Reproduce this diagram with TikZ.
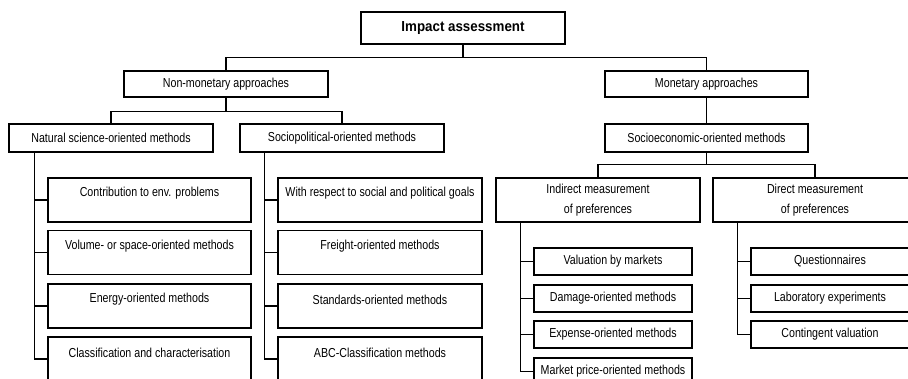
\documentclass[tikz,border=0pt]{standalone}
\usepackage{fontspec}
\setmainfont{Liberation Sans}[FakeStretch=0.82]
\newfontfamily\titlefont{Liberation Sans}[FakeStretch=0.92]
\begin{document}
\begin{tikzpicture}[x=1pt,y=-1pt,
  box/.style={draw, line width=1.1pt, inner sep=0pt, font=\fontsize{13}{19.5}\selectfont, align=center},
  conn/.style={line width=1.1pt},
  lbl/.style={anchor=center, yshift=-16pt, font=\fontsize{13}{14}\selectfont},
  tallbox/.style={box, minimum width=203, minimum height=44},
  smallbox/.style={box, minimum width=158, minimum height=27}]
\useasboundingbox (0,0) rectangle (908,378);
\clip (0,0) rectangle (908,378);

\node[box, minimum width=204, minimum height=32, font=\titlefont\bfseries\fontsize{14.5}{16}\selectfont] (top) at (463,28) {Impact assessment};
\node[box, minimum width=204, minimum height=26] (nonmon) at (226,84) {Non-monetary approaches};
\node[box, minimum width=203, minimum height=26] (mon) at (706.5,84) {Monetary approaches};
\node[box, minimum width=204, minimum height=28] (nat) at (111,138) {Natural science-oriented methods};
\node[box, minimum width=204, minimum height=28] (soc) at (342,138) {Sociopolitical-oriented methods};
\node[box, minimum width=203, minimum height=28] (socio) at (706.5,138) {Socioeconomic-oriented methods};
\node[box, minimum width=204, minimum height=44] (ind) at (598,200) {Indirect measurement\\of preferences};
\node[box, minimum width=204, minimum height=44] (dir) at (815,200) {Direct measurement\\of preferences};

% natural science children
\node[tallbox, label={[lbl]north:Contribution to env. problems}] (n1) at (149.5,200) {};
\node[tallbox, label={[lbl]north:Volume- or space-oriented methods}] (n2) at (149.5,252.5) {};
\node[tallbox, label={[lbl]north:Energy-oriented methods}] (n3) at (149.5,306) {};
\node[tallbox, label={[lbl]north:Classification and characterisation}] (n4) at (149.5,359) {};

% sociopolitical children
\node[tallbox, minimum width=204, label={[lbl]north:With respect to social and political goals}] (s1) at (380,200) {};
\node[tallbox, minimum width=204, label={[lbl]north:Freight-oriented methods}] (s2) at (380,252.5) {};
\node[tallbox, minimum width=204, label={[lbl]north:Standards-oriented methods}] (s3) at (380,306) {};
\node[tallbox, minimum width=204, label={[lbl]north:ABC-Classification methods}] (s4) at (380,359) {};

% indirect children
\node[smallbox] (i1) at (613,261.5) {Valuation by markets};
\node[smallbox] (i2) at (613,298.5) {Damage-oriented methods};
\node[smallbox] (i3) at (613,334.5) {Expense-oriented methods};
\node[smallbox] (i4) at (613,371.5) {Market price-oriented methods};

% direct children
\node[smallbox] (d1) at (830,261.5) {Questionnaires};
\node[smallbox] (d2) at (830,298.5) {Laboratory experiments};
\node[smallbox] (d3) at (830,334.5) {Contingent valuation};

% connectors
\draw[conn] (top.south) -- ++(0,13) -| (nonmon.north);
\draw[conn] (top.south) -- ++(0,13) -| (mon.north);
\draw[conn] (nonmon.south) -- ++(0,14) -| (nat.north);
\draw[conn] (nonmon.south) -- ++(0,14) -| (soc.north);
\draw[conn] (mon.south) -- (socio.north);
\draw[conn] (socio.south) -- ++(0,12) -| (ind.north);
\draw[conn] (socio.south) -- ++(0,12) -| (dir.north);

\foreach \c in {n1,n2,n3,n4} \draw[conn] ([xshift=26pt]nat.south west) |- (\c.west);
\foreach \c in {s1,s2,s3,s4} \draw[conn] ([xshift=25pt]soc.south west) |- (\c.west);
\foreach \c in {i1,i2,i3,i4} \draw[conn] ([xshift=25pt]ind.south west) |- (\c.west);
\foreach \c in {d1,d2,d3} \draw[conn] ([xshift=25pt]dir.south west) |- (\c.west);
\end{tikzpicture}
\end{document}
